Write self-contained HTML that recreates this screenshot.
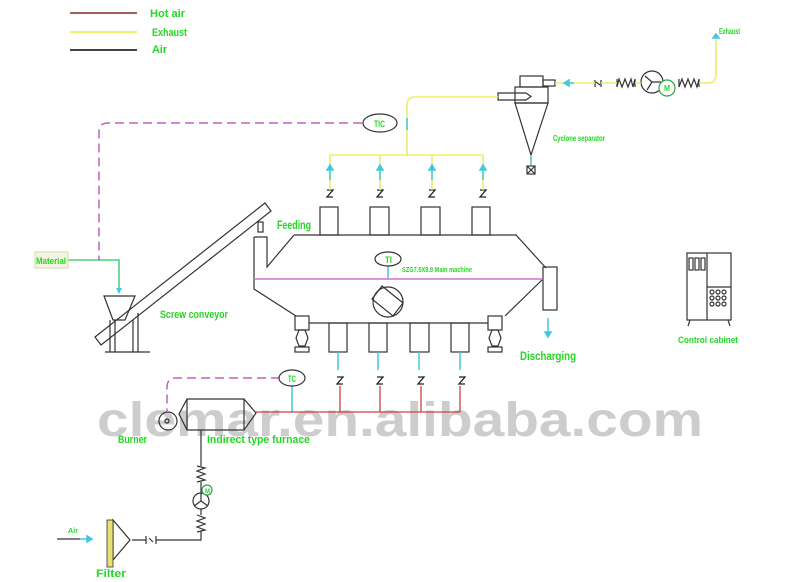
<!DOCTYPE html>
<html><head><meta charset="utf-8"><style>
html,body{margin:0;padding:0;background:#fff;}
svg{display:block;}
.t{font-family:"Liberation Sans",sans-serif;font-weight:bold;fill:#22d822;}
</style></head><body>
<svg width="800" height="582" viewBox="0 0 800 582" xmlns="http://www.w3.org/2000/svg">
<rect width="800" height="582" fill="#fff"/>
<text x="97" y="436" font-family="Liberation Sans,sans-serif" font-weight="bold" font-size="48" fill="#cdcdcd" textLength="606" lengthAdjust="spacingAndGlyphs">clemar.en.alibaba.com</text>

<line x1="70" y1="13" x2="137" y2="13" stroke="#a06060" stroke-width="2"/>
<line x1="70" y1="32" x2="137" y2="32" stroke="#f0f070" stroke-width="2"/>
<line x1="70" y1="50" x2="137" y2="50" stroke="#444" stroke-width="2"/>
<text class="t" x="150" y="17" font-size="11" textLength="35" lengthAdjust="spacingAndGlyphs">Hot air</text>
<text class="t" x="152" y="36" font-size="11" textLength="35" lengthAdjust="spacingAndGlyphs">Exhaust</text>
<text class="t" x="152" y="53" font-size="11" textLength="15" lengthAdjust="spacingAndGlyphs">Air</text>

<g fill="none" stroke="#333" stroke-width="1.2">
<rect x="520" y="76" width="23" height="11"/>
<rect x="543" y="80" width="12" height="6"/>
<rect x="515" y="87" width="33" height="16"/>
<path d="M515 103 L548 103 L531 155 Z"/>
<path d="M498 93 L526 93 L531 96.5 L526 100 L498 100 Z"/>
<rect x="527" y="166" width="8" height="8"/>
<path d="M527 166 L535 174 M535 166 L527 174"/>
<path d="M595 80 L595 87 M601 80 L601 87 M596 82 L600 85"/>
<path d="M617 79 L617 87 L619 79 L622 87 L625 79 L628 87 L631 79 L633 87 L635 79 L635 87"/>
<circle cx="652" cy="82" r="11"/>
<path d="M652 82 L645 76 M652 82 L661 82 M652 82 L647 90"/>
<path d="M679 79 L679 87 L682 79 L685 87 L688 79 L691 87 L694 79 L697 87 L699 79 L699 87"/>
<rect x="320" y="207" width="18" height="28"/>
<rect x="370" y="207" width="19" height="28"/>
<rect x="421" y="207" width="19" height="28"/>
<rect x="472" y="207" width="18" height="28"/>
<path d="M294 235 L516 235 L546 268"/>
<rect x="543" y="267" width="14" height="43"/>
<path d="M543 279 L505 316"/>
<path d="M309 323 L488 323"/>
<path d="M254 237 L267 237 L267 267 L294 235 M254 237 L254 289 L296 316"/>
<rect x="258" y="222" width="5" height="10"/>
<circle cx="388" cy="302" r="15"/>
<path d="M382 286 L403 303 L393 316 L372 299 Z"/>
<rect x="295" y="316" width="14" height="14"/>
<path d="M299 330 L305 330 L308 338 L305 346 L299 346 L296 338 Z"/>
<rect x="295" y="347" width="14" height="5"/>
<rect x="488" y="316" width="14" height="14"/>
<path d="M492 330 L498 330 L501 338 L498 346 L492 346 L489 338 Z"/>
<rect x="488" y="347" width="14" height="5"/>
<rect x="329" y="323" width="18" height="29"/>
<rect x="369" y="323" width="18" height="29"/>
<rect x="410" y="323" width="19" height="29"/>
<rect x="451" y="323" width="18" height="29"/>
<g stroke="#222" stroke-width="1.3">
<path d="M327 190 L333 190 L327 197 L333 197 M377 190 L383 190 L377 197 L383 197 M429 190 L435 190 L429 197 L435 197 M480 190 L486 190 L480 197 L486 197"/>
<path d="M337 377 L343 377 L337 384 L343 384 M377 377 L383 377 L377 384 L383 384 M418 377 L424 377 L418 384 L424 384 M459 377 L465 377 L459 384 L465 384"/>
</g>
<path d="M95 337 L265 203 L271 211 L101 345 Z"/>
<path d="M104 296 L135 296 L125 320 L113 320 Z"/>
<path d="M110 320 L110 352 M115 320 L115 352 M133 320 L133 352 M138 313 L138 352 M105 352 L150 352"/>
<circle cx="168" cy="421" r="9"/>
<circle cx="167" cy="421" r="2"/>
<path d="M187 399 L244 399 L256 413 L244 430 L187 430 L179 414 Z M187 399 L187 430 M244 399 L244 430"/>
<path d="M201 430 L201 466 M201 482 L201 493 M201 509 L201 515 M201 531 L201 540 L156 540 M146 540 L132 540"/>
<path d="M197 466 L205 468 L197 471 L205 474 L197 477 L205 480 L197 482"/>
<path d="M197 515 L205 518 L197 521 L205 524 L197 527 L205 530 L197 532"/>
<circle cx="201" cy="501" r="8"/>
<path d="M201 501 L201 493 M201 501 L194 506 M201 501 L208 506"/>
<path d="M146 536 L146 544 M156 536 L156 544 M149 538 L153 542"/>
<path d="M130 540 L113 520 L113 560 Z"/>
<path d="M57 539 L80 539"/>
<rect x="687" y="253" width="44" height="67"/>
<path d="M707 253 L707 320 M707 287 L731 287 M690 320 L688 326 M728 320 L730 326"/>
<rect x="689" y="258" width="4" height="12"/><rect x="695" y="258" width="4" height="12"/><rect x="701" y="258" width="4" height="12"/>
<circle cx="712" cy="292" r="2"/><circle cx="718" cy="292" r="2"/><circle cx="724" cy="292" r="2"/>
<circle cx="712" cy="298" r="2"/><circle cx="718" cy="298" r="2"/><circle cx="724" cy="298" r="2"/>
<circle cx="712" cy="304" r="2"/><circle cx="718" cy="304" r="2"/><circle cx="724" cy="304" r="2"/>
</g>
<rect x="107" y="520" width="6" height="47" fill="#e8e070" stroke="#333" stroke-width="0.8"/>

<g fill="none" stroke="#eded6a" stroke-width="1.6">
<path d="M555 83 L595 83 M601 83 L617 83 M635 83 L641 83 M699 83 L708 83 Q716 83 716 74 L716 34"/>
<path d="M498 97 L415 97 Q407 97 407 105 L407 155"/>
<path d="M330 155 L483 155 M330 155 L330 190 M380 155 L380 190 M432 155 L432 190 M483 155 L483 190"/>
</g>
<g stroke="#40c8e0" stroke-width="1.5" fill="#40c8e0">
<path d="M330 168 L330 180 M380 168 L380 180 M432 168 L432 180 M483 168 L483 180 M407 118 L407 130"/>
<path d="M327 170 L330 165 L333 170 Z M377 170 L380 165 L383 170 Z M429 170 L432 165 L435 170 Z M480 170 L483 165 L486 170 Z"/>
<path d="M566 83 L574 83"/>
<path d="M564 83 L569 80 L569 86 Z"/>
<path d="M716 34 L713 38 L719 38 Z"/>
<path d="M388 266 L388 279 M292 386 L292 412"/>
<path d="M548 318 L548 334"/>
<path d="M545 332 L548 337 L551 332 Z"/>
<path d="M80 539 L92 539"/>
<path d="M92 539 L87 536 L87 542 Z"/>
<path d="M338 352 L338 370 M378 352 L378 370 M419 352 L419 370 M460 352 L460 370"/>
</g>
<g stroke="#d04040" stroke-width="1.3" fill="none">
<path d="M256 412 L460 412 M340 386 L340 412 M380 386 L380 412 M421 386 L421 412 M460 386 L460 412"/>
</g>
<g stroke="#30c060" stroke-width="1.3" fill="none">
<path d="M68 260 L119 260 L119 292"/>
<path d="M531 155 L531 166"/>
</g>
<path d="M116 288 L119 294 L122 288 Z" fill="#40c8e0"/>
<g stroke="#c060c0" stroke-width="1.5" fill="none">
<path d="M362 123 L108 123 Q99 123 99 132 L99 260" stroke-dasharray="9,5"/>
<path d="M280 378 L175 378 Q167 378 167 388 L167 412" stroke-dasharray="9,5"/>
<path d="M254 279 L543 279" stroke="#d070d0"/>
</g>
<g fill="#fff" stroke="#333" stroke-width="1.2">
<ellipse cx="380" cy="123" rx="17" ry="9"/>
<ellipse cx="388" cy="259" rx="13" ry="7"/>
<ellipse cx="292" cy="378" rx="13" ry="8"/>
<circle cx="667" cy="88" r="8" stroke="#30a040"/>
<circle cx="207" cy="490" r="5" stroke="#30a040"/>
</g>
<text class="t" x="374" y="127" font-size="9" textLength="11" lengthAdjust="spacingAndGlyphs">TIC</text>
<text class="t" x="385" y="263" font-size="9" textLength="7" lengthAdjust="spacingAndGlyphs">TI</text>
<text class="t" x="288" y="382" font-size="9" textLength="8" lengthAdjust="spacingAndGlyphs">TC</text>
<text class="t" x="664" y="91" font-size="8" textLength="6" lengthAdjust="spacingAndGlyphs">M</text>
<text class="t" x="205" y="493" font-size="6">M</text>

<rect x="35" y="252" width="33" height="16" fill="#f4f4e0" stroke="#d8d8b0"/>
<text class="t" x="36" y="264" font-size="9" textLength="30" lengthAdjust="spacingAndGlyphs">Material</text>
<text class="t" x="719" y="34" font-size="8" textLength="21" lengthAdjust="spacingAndGlyphs">Exhaust</text>
<text class="t" x="553" y="141" font-size="8" textLength="52" lengthAdjust="spacingAndGlyphs">Cyclone separator</text>
<text class="t" x="277" y="229" font-size="12" textLength="34" lengthAdjust="spacingAndGlyphs">Feeding</text>
<text class="t" x="402" y="272" font-size="7" textLength="70" lengthAdjust="spacingAndGlyphs">SZG7.5X8.9 Main machine</text>
<text class="t" x="160" y="318" font-size="11" textLength="68" lengthAdjust="spacingAndGlyphs">Screw conveyor</text>
<text class="t" x="520" y="360" font-size="12" textLength="56" lengthAdjust="spacingAndGlyphs">Discharging</text>
<text class="t" x="678" y="343" font-size="9" textLength="60" lengthAdjust="spacingAndGlyphs">Control cabinet</text>
<text class="t" x="118" y="443" font-size="11" textLength="29" lengthAdjust="spacingAndGlyphs">Burner</text>
<text class="t" x="207" y="443" font-size="11" textLength="103" lengthAdjust="spacingAndGlyphs">Indirect type furnace</text>
<text class="t" x="68" y="533" font-size="7" textLength="10" lengthAdjust="spacingAndGlyphs">Air</text>
<text class="t" x="96" y="577" font-size="11" textLength="30" lengthAdjust="spacingAndGlyphs">Filter</text>
</svg>
</body></html>
